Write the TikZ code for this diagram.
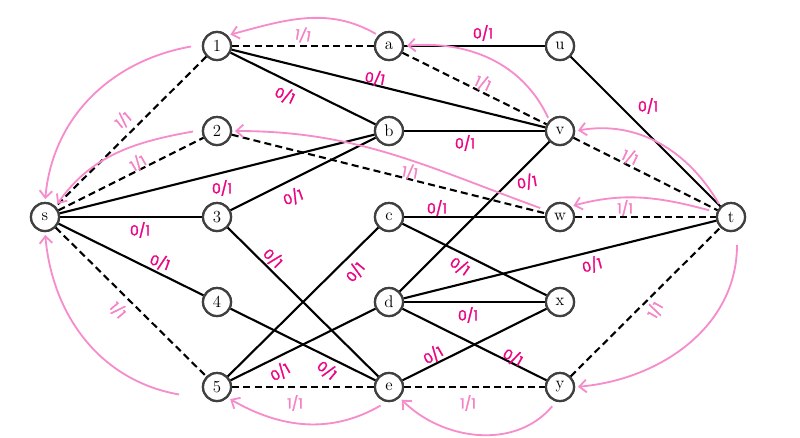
\documentclass[tikz,border=0pt]{standalone}
\usepackage{fontspec}
\newfontfamily\lblfont{Poppins}[FakeBold=2]
\usetikzlibrary{arrows.meta}
\begin{document}
\begin{tikzpicture}[x=0.025cm,y=-0.025cm,
  vtx/.style={circle,draw=black!75,line width=1.6pt,fill=white,minimum size=0.7cm,inner sep=0pt,font=\large},
  sol/.style={line width=1.5pt,black},
  dsh/.style={line width=1.5pt,black,dash pattern=on 5pt off 3pt},
  zl/.style={text=magenta!90!red,font=\lblfont\normalsize,inner sep=0pt},
  ol/.style={text=magenta!50,font=\lblfont\normalsize,inner sep=0pt},
  res/.style={draw=magenta!45,line width=1.3pt,-{Straight Barb[length=5pt,width=9pt]},shorten >=2pt,shorten <=2pt}]
\useasboundingbox (0,0) rectangle (800,437);
\node[vtx] (s) at (45,217) {s};
\node[vtx] (1) at (217,46) {1};
\node[vtx] (2) at (217,131) {2};
\node[vtx] (3) at (217,217) {3};
\node[vtx] (4) at (217,302) {4};
\node[vtx] (5) at (217,387) {5};
\node[vtx] (a) at (389,46) {a};
\node[vtx] (b) at (389,131) {b};
\node[vtx] (c) at (389,217) {c};
\node[vtx] (d) at (389,302) {d};
\node[vtx] (e) at (389,387) {e};
\node[vtx] (u) at (560,46) {u};
\node[vtx] (v) at (560,131) {v};
\node[vtx] (w) at (560,217) {w};
\node[vtx] (x) at (560,302) {x};
\node[vtx] (y) at (560,387) {y};
\node[vtx] (t) at (731,217) {t};
\foreach \p/\q in {a/u,u/t,1/b,1/v,b/v,s/b,s/3,3/b,s/4,4/e,3/e,c/w,c/x,5/c,5/d,d/v,d/t,d/x,d/y,e/x}
  \draw[sol] (\p) -- (\q);
\foreach \p/\q in {1/a,a/v,1/s,s/2,2/w,s/5,5/e,e/y,y/t,w/t,v/t}
  \draw[dsh] (\p) -- (\q);
\foreach \n in {s,1,2,3,4,5,a,b,c,d,e,u,v,w,x,y,t}
  \node[vtx] at (\n) {\n};
% residual arrows
\draw[res] (a.north west) to[out=150,in=15] (1.north east);
\draw[res] (v.north west) to[out=115,in=5] (a.east);
\draw[res] (t.north west) to[out=120,in=10] (v.east);
\draw[res] (t.west) ++(-4,-6) to[out=165,in=15] (w.north east);
\draw[res] (w.west) ++(-2,-8) to[out=160,in=0] (2.east);
\draw[res] (1.west) ++(-8,0) to[out=190,in=85] (s.north);
\draw[res] (2.west) ++(-6,0) to[out=190,in=55] (s.north east);
\draw[res] (5.west) ++(-20,8) to[out=170,in=-85] (s.south);
\draw[res] (e.south) ++(-6,2) to[out=-150,in=-30] (5.south east);
\draw[res] (y.south) ++(-6,2) to[out=-130,in=-45] (e.south east);
\draw[res] (t.south) ++(6,10) to[out=-90,in=5] (y.east);
% labels
\node[ol,rotate=-10] at (303,35) {1/1};
\node[zl,rotate=-10] at (375,78) {0/1};
\node[zl,rotate=-25] at (285,95) {0/1};
\node[ol,rotate=40] at (123,120) {1/1};
\node[ol,rotate=30] at (138,163) {1/1};
\node[zl] at (222,188) {0/1};
\node[zl,rotate=20] at (293,197) {0/1};
\node[zl] at (483,33) {0/1};
\node[ol,rotate=-25] at (483,83) {1/1};
\node[zl] at (465,143) {0/1};
\node[ol,rotate=-10] at (410,172) {1/1};
\node[zl,rotate=10] at (527,182) {0/1};
\node[zl] at (437,208) {0/1};
\node[ol,rotate=-25] at (630,157) {1/1};
\node[zl] at (648,106) {0/1};
\node[ol] at (625,208) {1/1};
\node[zl] at (140,230) {0/1};
\node[zl,rotate=-20] at (160,262) {0/1};
\node[zl,rotate=-45] at (273,258) {0/1};
\node[zl,rotate=50] at (355,272) {0/1};
\node[zl,rotate=-35] at (460,266) {0/1};
\node[zl,rotate=15] at (592,265) {0/1};
\node[zl] at (468,315) {0/1};
\node[ol,rotate=-50] at (118,310) {1/1};
\node[ol,rotate=60] at (655,310) {1/1};
\node[zl,rotate=30] at (280,372) {0/1};
\node[zl,rotate=-40] at (327,370) {0/1};
\node[zl,rotate=30] at (433,355) {0/1};
\node[zl,rotate=-30] at (513,357) {0/1};
\node[ol] at (295,403) {1/1};
\node[ol] at (468,403) {1/1};
\end{tikzpicture}
\end{document}
